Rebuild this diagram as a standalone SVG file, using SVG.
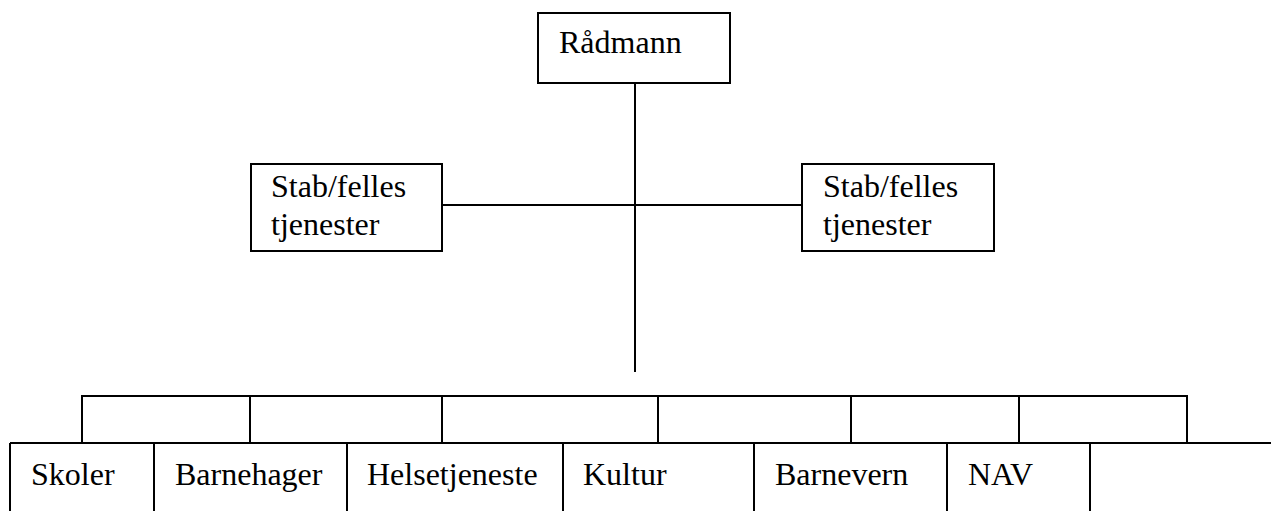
<svg xmlns="http://www.w3.org/2000/svg" width="1271" height="511" viewBox="0 0 1271 511">
<style>
.box{fill:#fff;stroke:#000;stroke-width:2}
.ln{stroke:#000;stroke-width:2;fill:none}
text{font-family:"Liberation Serif","Times New Roman",serif;font-size:32px;fill:#000}
</style>
<rect width="1271" height="511" fill="#fff"/>
<g id="connectors">
<line class="ln" x1="635" y1="83" x2="635" y2="372"/>
<line class="ln" x1="442" y1="205" x2="802" y2="205"/>
<path class="ln" d="M82 443 V396 H1187 V443"/>
<line class="ln" x1="250" y1="396" x2="250" y2="443"/>
<line class="ln" x1="442" y1="396" x2="442" y2="443"/>
<line class="ln" x1="658" y1="396" x2="658" y2="443"/>
<line class="ln" x1="851" y1="396" x2="851" y2="443"/>
<line class="ln" x1="1019" y1="396" x2="1019" y2="443"/>
<line class="ln" x1="10" y1="443" x2="1271" y2="443"/>
</g>
<g id="radmann"><rect class="box" x="538" y="13" width="192" height="70"/><text x="559" y="53">Rådmann</text></g>
<g id="stab-left"><rect class="box" x="251" y="164" width="191" height="87"/><text x="271" y="197">Stab/felles</text><text x="271" y="235">tjenester</text></g>
<g id="stab-right"><rect class="box" x="802" y="164" width="192" height="87"/><text x="823" y="197">Stab/felles</text><text x="823" y="235">tjenester</text></g>
<g id="units">
<line class="ln" x1="10" y1="443" x2="10" y2="512"/>
<line class="ln" x1="154" y1="443" x2="154" y2="512"/>
<line class="ln" x1="347" y1="443" x2="347" y2="512"/>
<line class="ln" x1="563" y1="443" x2="563" y2="512"/>
<line class="ln" x1="754" y1="443" x2="754" y2="512"/>
<line class="ln" x1="947" y1="443" x2="947" y2="512"/>
<line class="ln" x1="1090" y1="443" x2="1090" y2="512"/>
</g>
<g id="skoler"><text x="31" y="485">Skoler</text></g>
<g id="barnehager"><text x="175" y="485">Barnehager</text></g>
<g id="helsetjeneste"><text x="367" y="485">Helsetjeneste</text></g>
<g id="kultur"><text x="583" y="485">Kultur</text></g>
<g id="barnevern"><text x="775" y="485">Barnevern</text></g>
<g id="nav"><text x="968" y="485">NAV</text></g>
</svg>
